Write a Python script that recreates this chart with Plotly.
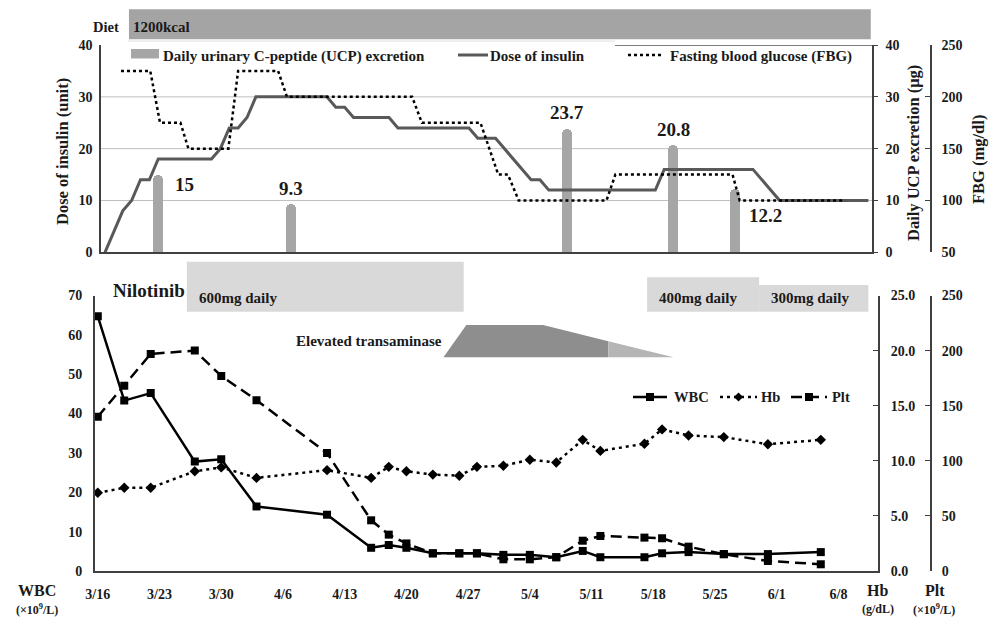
import datetime as dt
import plotly.graph_objects as go

# ---------------- data ----------------
# Bottom panel (blood counts)
lab_dates = ["3/16", "3/19", "3/22", "3/27", "3/30", "4/3", "4/11", "4/16", "4/18", "4/20",
             "4/23", "4/26", "4/28", "5/1", "5/4", "5/7", "5/10", "5/12", "5/17", "5/19",
             "5/22", "5/26", "5/31", "6/6"]
wbc = [64.7, 43.3, 45.2, 27.8, 28.4, 16.4, 14.3, 5.9, 6.6, 5.9,
       4.5, 4.5, 4.5, 4.1, 4.1, 3.5, 5.1, 3.5, 3.5, 4.5,
       4.8, 4.3, 4.3, 4.8]
hb = [7.1, 7.55, 7.55, 9.05, 9.4, 8.45, 9.15, 8.45, 9.45, 9.05,
      8.75, 8.65, 9.45, 9.55, 10.1, 9.85, 11.9, 10.9, 11.55, 12.85,
      12.3, 12.15, 11.5, 11.9]
plt_count = [140, 168, 197, 200, 177, 155, 107, 46, 33, 25,
             16, 16, 16, 10.6, 10.6, 12.5, 27.5, 31.8, 30.3, 29.7,
             22.1, 15.2, 9.1, 6.1]
x_tick_labels = ["3/16", "3/23", "3/30", "4/6", "4/13", "4/20", "4/27",
                 "5/4", "5/11", "5/18", "5/25", "6/1", "6/8"]

# Top panel (days since 3/16)
insulin_day = [1, 3, 4, 5, 6, 7, 13, 14, 15, 16, 17, 18, 26, 27, 28, 29, 33, 34, 42, 43,
               45, 49, 50, 51, 63, 64, 74, 77, 87]
insulin_dose = [0, 8, 10, 14, 14, 18, 18, 20, 24, 24, 26, 30, 30, 28, 28, 26, 26, 24, 24, 22,
                22, 14, 14, 12, 12, 16, 16, 10, 10]
fbg_day = [2.8, 6.1, 7.2, 9.5, 10.4, 14.9, 16.0, 20.5, 21.5, 35.6,
           36.7, 43.3, 45.3, 46.4, 47.6, 57.5, 58.5, 71.7, 72.5, 84.4]
fbg = [225, 225, 175, 175, 150, 150, 225, 225, 200, 200,
       175, 175, 125, 125, 100, 100, 125, 125, 100, 100]
ucp_day = [7, 22, 53, 65, 72]
ucp = [15, 9.3, 23.7, 20.8, 12.2]

# Treatment periods (days since 3/16)
diet_label = "1200kcal"
diet_start, diet_end = 3.7, 87.27
nilotinib_labels = ["600mg daily", "400mg daily", "300mg daily"]
nilotinib_start = [10.1, 62.3, 75.0]
nilotinib_end = [41.5, 75.0, 87.4]
transaminase_x = [39.2, 41.8, 50.5, 65.3]

BASE = dt.date(2000, 3, 16)


def day(s):
    m, d = map(int, s.split("/"))
    return (dt.date(2000, m, d) - BASE).days


lab_x = [day(s) for s in lab_dates]
tick_x = [day(s) for s in x_tick_labels]

W, H = 997, 617


def px(x):
    return x / W


def py(y):
    return 1 - y / H


FONT = "Liberation Serif"
TXT = "#1a1a1a"
AX = "#404040"
tickfont = dict(family=FONT, size=14, color=TXT, weight="bold")

fig = go.Figure()

# ---- top panel traces ----
fig.add_trace(go.Bar(x=ucp_day, y=ucp, xaxis="x", yaxis="y", width=1.12,
                     marker=dict(color="#a6a6a6", cornerradius=5, line=dict(width=0)),
                     name="Daily urinary C-peptide (UCP) excretion"))
fig.add_trace(go.Scatter(x=insulin_day, y=insulin_dose, xaxis="x", yaxis="y2", mode="lines",
                         line=dict(color="#595959", width=3), name="Dose of insulin"))
fig.add_trace(go.Scatter(x=fbg_day, y=fbg, xaxis="x", yaxis="y3", mode="lines",
                         line=dict(color="black", width=2.5, dash="3px,3px"),
                         name="Fasting blood glucose (FBG)"))

# ---- bottom panel traces ----
fig.add_trace(go.Scatter(x=lab_x, y=hb, xaxis="x2", yaxis="y5", mode="lines+markers",
                         line=dict(color="black", width=2.5, dash="3px,4px"),
                         marker=dict(symbol="diamond", size=8, color="black"), name="Hb"))
fig.add_trace(go.Scatter(x=lab_x, y=plt_count, xaxis="x2", yaxis="y6", mode="lines+markers",
                         line=dict(color="black", width=2.5, dash="11px,6px"),
                         marker=dict(symbol="square", size=8, color="black"), name="Plt"))
fig.add_trace(go.Scatter(x=lab_x, y=wbc, xaxis="x2", yaxis="y4", mode="lines+markers",
                         line=dict(color="black", width=2.5),
                         marker=dict(symbol="square", size=8, color="black"), name="WBC"))

top_dom = [py(252.3), py(45)]
bot_dom = [py(571), py(295.5)]

fig.update_layout(
    width=W, height=H, margin=dict(l=0, r=0, t=0, b=0),
    paper_bgcolor="white", plot_bgcolor="white", showlegend=False,
    template="none", font=dict(family=FONT, color=TXT),
    bargap=0,
    xaxis=dict(domain=[px(101), px(872)], range=[0.55, 87.41], anchor="y",
               showline=True, linecolor=AX, linewidth=1.5, showticklabels=False,
               ticks="", showgrid=False, zeroline=False),
    yaxis=dict(domain=top_dom, range=[0, 40], anchor="x", tickvals=[0, 10, 20, 30, 40],
               showline=True, linecolor=AX, linewidth=1.5, ticks="", showgrid=False,
               zeroline=False, tickfont=tickfont, ticklabelstandoff=4),
    yaxis2=dict(overlaying="y", side="right", anchor="x", range=[0, 40],
                tickvals=[0, 10, 20, 30, 40], showline=True, linecolor=AX, linewidth=1.5,
                ticks="outside", ticklen=4, tickcolor=AX, showgrid=False, zeroline=False,
                tickfont=tickfont, ticklabelstandoff=5),
    yaxis3=dict(overlaying="y", side="right", anchor="free", position=px(931), range=[50, 250],
                tickvals=[50, 100, 150, 200, 250], showline=True, linecolor=AX, linewidth=1.5,
                ticks="inside", ticklen=5, tickcolor=AX, showgrid=False, zeroline=False,
                tickfont=tickfont, ticklabelstandoff=7),
    xaxis2=dict(domain=[px(95), px(878)], range=[(95 - 97.8) / 8.817, (878 - 97.8) / 8.817],
                anchor="y4", showline=True, linecolor=AX, linewidth=2, ticks="",
                tickvals=tick_x, ticktext=x_tick_labels, showgrid=False, zeroline=False,
                tickfont=tickfont, ticklabelstandoff=9),
    yaxis4=dict(domain=bot_dom, range=[0, 70], anchor="x2", tickvals=list(range(0, 71, 10)),
                showline=True, linecolor=AX, linewidth=2, ticks="", showgrid=False,
                zeroline=False, tickfont=tickfont, ticklabelstandoff=8),
    yaxis5=dict(overlaying="y4", side="right", anchor="x2", range=[0, 25],
                tickvals=[0, 5, 10, 15, 20, 25], tickformat=".1f", showline=True,
                linecolor=AX, linewidth=2, ticks="inside", ticklen=5, tickcolor=AX,
                showgrid=False, zeroline=False, tickfont=tickfont, ticklabelstandoff=8),
    yaxis6=dict(overlaying="y4", side="right", anchor="free", position=px(931), range=[0, 250],
                tickvals=[0, 50, 100, 150, 200, 250], showline=True, linecolor=AX, linewidth=2,
                ticks="inside", ticklen=5, tickcolor=AX, showgrid=False, zeroline=False,
                tickfont=tickfont, ticklabelstandoff=7),
)

shapes = []
# top gridlines
for g in [10, 20, 30]:
    shapes.append(dict(type="line", xref="x domain", yref="y", x0=0, x1=1, y0=g, y1=g,
                       line=dict(color="#bfbfbf", width=1), layer="below"))
shapes.append(dict(type="line", xref="paper", yref="y", x0=px(615), x1=px(872), y0=40, y1=40,
                   line=dict(color="#505050", width=1.5)))
shapes.append(dict(type="line", xref="paper", yref="paper", x0=px(128), x1=px(615),
                   y0=py(41), y1=py(41), line=dict(color="#e0e0e0", width=1)))
# diet bar
shapes.append(dict(type="rect", xref="x", yref="paper", x0=diet_start, x1=diet_end,
                   y0=py(39.3), y1=py(9.3), fillcolor="#a4a4a4", line=dict(width=0)))
# nilotinib bars
bar_tops = [261.7, 277.3, 285]
for s, e, t in zip(nilotinib_start, nilotinib_end, bar_tops):
    shapes.append(dict(type="rect", xref="x2", yref="paper", x0=s, x1=e, y0=py(311.7), y1=py(t),
                       fillcolor="#d9d9d9", line=dict(width=0)))
# elevated transaminase
tx = transaminase_x
mid = tx[2] + (tx[3] - tx[2]) * 0.5
ymid = 325 + (357.3 - 325) * 0.5
shapes.append(dict(type="path", xref="x2", yref="paper",
                   path=f"M {tx[0]},{py(357.3)} L {tx[1]},{py(325)} L {tx[2]},{py(325)} "
                        f"L {mid},{py(ymid)} L {mid},{py(357.3)} Z",
                   fillcolor="#8e8e8e", line=dict(width=0)))
shapes.append(dict(type="path", xref="x2", yref="paper",
                   path=f"M {mid},{py(357.3)} L {mid},{py(ymid)} L {tx[3]},{py(357.3)} Z",
                   fillcolor="#b5b5b5", line=dict(width=0)))
# top legend swatches
shapes.append(dict(type="rect", xref="paper", yref="paper", x0=px(131), x1=px(159),
                   y0=py(58.5), y1=py(49), fillcolor="#a6a6a6", line=dict(width=0)))
shapes.append(dict(type="line", xref="paper", yref="paper", x0=px(458), x1=px(488),
                   y0=py(55), y1=py(55), line=dict(color="#595959", width=3)))
shapes.append(dict(type="line", xref="paper", yref="paper", x0=px(628), x1=px(661),
                   y0=py(55), y1=py(55), line=dict(color="black", width=2.5, dash="3px,3px")))
# bottom legend swatches
LY = 397
shapes.append(dict(type="line", xref="paper", yref="paper", x0=px(633), x1=px(667),
                   y0=py(LY), y1=py(LY), line=dict(color="black", width=2.5)))
shapes.append(dict(type="rect", xref="paper", yref="paper", x0=px(646), x1=px(654),
                   y0=py(LY + 4), y1=py(LY - 4), fillcolor="black", line=dict(width=0)))
shapes.append(dict(type="line", xref="paper", yref="paper", x0=px(720), x1=px(757),
                   y0=py(LY), y1=py(LY), line=dict(color="black", width=2.5, dash="3px,4px")))
shapes.append(dict(type="path", xref="paper", yref="paper",
                   path=f"M {px(738.5)},{py(LY - 4.5)} L {px(743)},{py(LY)} L {px(738.5)},{py(LY + 4.5)} "
                        f"L {px(734)},{py(LY)} Z", fillcolor="black", line=dict(width=0)))
shapes.append(dict(type="line", xref="paper", yref="paper", x0=px(791), x1=px(827),
                   y0=py(LY), y1=py(LY), line=dict(color="black", width=2.5, dash="11px,6px")))
shapes.append(dict(type="rect", xref="paper", yref="paper", x0=px(805), x1=px(813),
                   y0=py(LY + 4), y1=py(LY - 4), fillcolor="black", line=dict(width=0)))

fig.update_layout(shapes=shapes)

ann = []


def text(x, y, s, size=14, anchor="left", angle=0, xref="paper", yref="paper", **kw):
    ann.append(dict(x=x, y=y, xref=xref, yref=yref, text=s, showarrow=False,
                    xanchor=anchor, yanchor="middle", textangle=angle,
                    font=dict(family=FONT, size=size, color=TXT, weight="bold"), **kw))


# diet
text(px(91), py(27.5), "Diet", 14.5)
text(diet_start, py(27.5), diet_label, 15, xref="x", xshift=2)
# nilotinib
text(px(111), py(290.5), "Nilotinib", 19)
for lbl, s in zip(nilotinib_labels, nilotinib_start):
    text(s, py(297.5), lbl, 15, xref="x2", xshift=10)
text(px(444), py(341), "Elevated transaminase", 15, anchor="right")
# top legend text
text(px(161), py(56), "Daily urinary C-peptide (UCP) excretion", 15)
text(px(488), py(56), "Dose of insulin", 15)
text(px(668), py(56), "Fasting blood glucose (FBG)", 15)
# bottom legend text
text(px(672), py(LY), "WBC", 14.5)
text(px(759), py(LY), "Hb", 14.5)
text(px(830), py(LY), "Plt", 14.5)
# axis titles
text(px(62), py(152), "Dose of insulin (unit)", 16.5, anchor="center", angle=-90)
text(px(913), py(153), "Daily UCP excretion (μg)", 16.5, anchor="center", angle=-90)
text(px(978), py(160), "FBG (mg/dl)", 16.5, anchor="center", angle=-90)
text(px(37), py(590), "WBC", 16, anchor="center")
text(px(37), py(609), "(×10<sup>9</sup>/L)", 12, anchor="center")
text(px(877), py(590), "Hb", 16, anchor="center")
text(px(878), py(609), "(g/dL)", 12, anchor="center")
text(px(935), py(590), "Plt", 16, anchor="center")
text(px(934), py(609), "(×10<sup>9</sup>/L)", 12, anchor="center")
# UCP value labels
offsets = [(26, -10), (0, 16), (0, 17), (0, 15), (30, -26)]
for d, v, (dx, dy) in zip(ucp_day, ucp, offsets):
    text(d, v, f"{v:g}", 19, anchor="center", xref="x", yref="y", xshift=dx, yshift=dy)

fig.update_layout(annotations=ann)
fig.write_html("out.html", config={"displayModeBar": False},
               post_script="document.body.style.margin='0px';"
                           "document.body.style.overflow='hidden';")
